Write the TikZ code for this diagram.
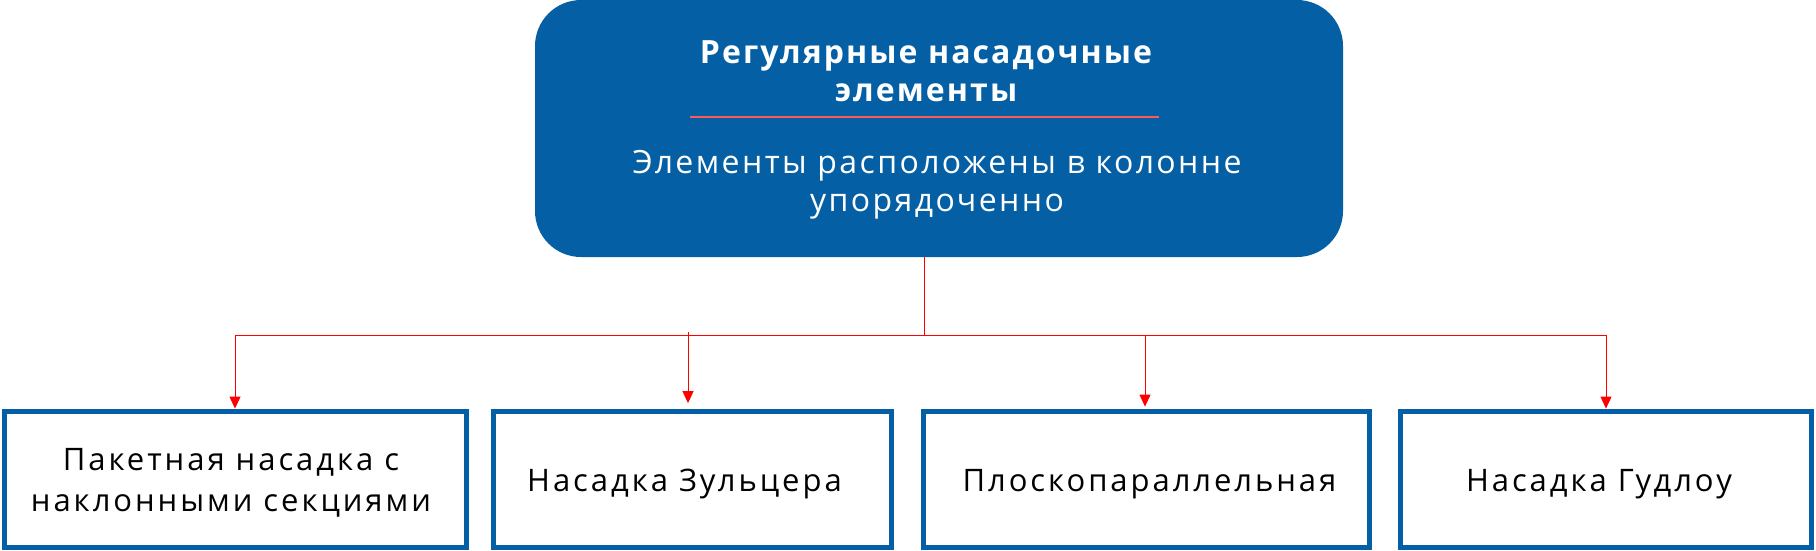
\documentclass[tikz,border=0pt]{standalone}
\usepackage{fontspec}
\setmainfont{Open Sans}
\newfontfamily\subfont[LetterSpace=7.5]{Open Sans}
\newfontfamily\leaffont[LetterSpace=9.5]{Open Sans}
\newfontfamily\titlefont[LetterSpace=6.5]{Open Sans Bold}
\usetikzlibrary{arrows.meta}
\definecolor{mainblue}{HTML}{045FA5}
\definecolor{linkred}{HTML}{FF0000}
\definecolor{rulered}{HTML}{FF5A5A}
\tikzset{
  leafbox/.style={draw=mainblue, line width=4.8pt, fill=white, inner sep=0pt,
    minimum height=136pt},
  leaftext/.style={anchor=base, inner sep=0pt, font=\leaffont\fontsize{31}{41.7}\selectfont},
  topbox/.style={fill=mainblue, rounded corners=46pt, inner sep=0pt,
    minimum width=808pt, minimum height=257pt},
  toptitle/.style={text=white, align=center, font=\titlefont\fontsize{32}{38}\selectfont},
  topsub/.style={text=white, align=center, font=\subfont\fontsize{32}{38}\selectfont},
  link/.style={draw=linkred, line width=1pt},
  linkarrow/.style={link, -{Triangle[length=12pt,width=11pt]}},
}
\begin{document}
\begin{tikzpicture}[x=1pt,y=-1pt]
\useasboundingbox (0,0) rectangle (1816,550);
\node[topbox] (top) at (939,128.5) {};
\node[toptitle] (title) at (926,71) {Регулярные насадочные\\элементы};
\coordinate (rl) at (690,117);
\coordinate (rr) at (1159,117);
\draw[draw=rulered, line width=1.2pt] (rl) -- (rr);
\node[topsub] (sub) at (937,184.5) {Элементы расположены в колонне\\упорядоченно};

\node[leafbox, minimum width=462pt] (b1) at (235.5,479.5) {};
\node[leafbox, minimum width=398pt] (b2) at (692.5,479.5) {};
\node[leafbox, minimum width=446pt] (b3) at (1146.5,479.5) {};
\node[leafbox, minimum width=411pt] (b4) at (1606,479.5) {};
\node[leaftext] (t1) at (231,470) {\begin{tabular}[t]{@{}c@{}}Пакетная насадка с\\наклонными секциями\end{tabular}};
\node[leaftext] (t2) at (684.5,491) {Насадка Зульцера};
\node[leaftext] (t3) at (1149.5,491) {Плоскопараллельная};
\node[leaftext] (t4) at (1599,491) {Насадка Гудлоу};

\coordinate (j) at (924,335);
\coordinate (a1) at (235,335);
\coordinate (a2) at (688,335);
\coordinate (a2top) at (688,332);
\coordinate (a3) at (1145,335);
\coordinate (a4) at (1606,335);
\draw[link] (top.south -| j) -- (j);
\draw[link] (a1) -- (a4);
\draw[linkarrow] (a1) -- ([yshift=0.5pt]b1.north -| a1);
\draw[linkarrow] (a2top) -- ([yshift=6pt]b2.north -| a2);
\draw[linkarrow] (a3) -- ([yshift=2.5pt]b3.north -| a3);
\draw[linkarrow] (a4) -- ([yshift=0.5pt]b4.north -| a4);
\end{tikzpicture}
\end{document}
